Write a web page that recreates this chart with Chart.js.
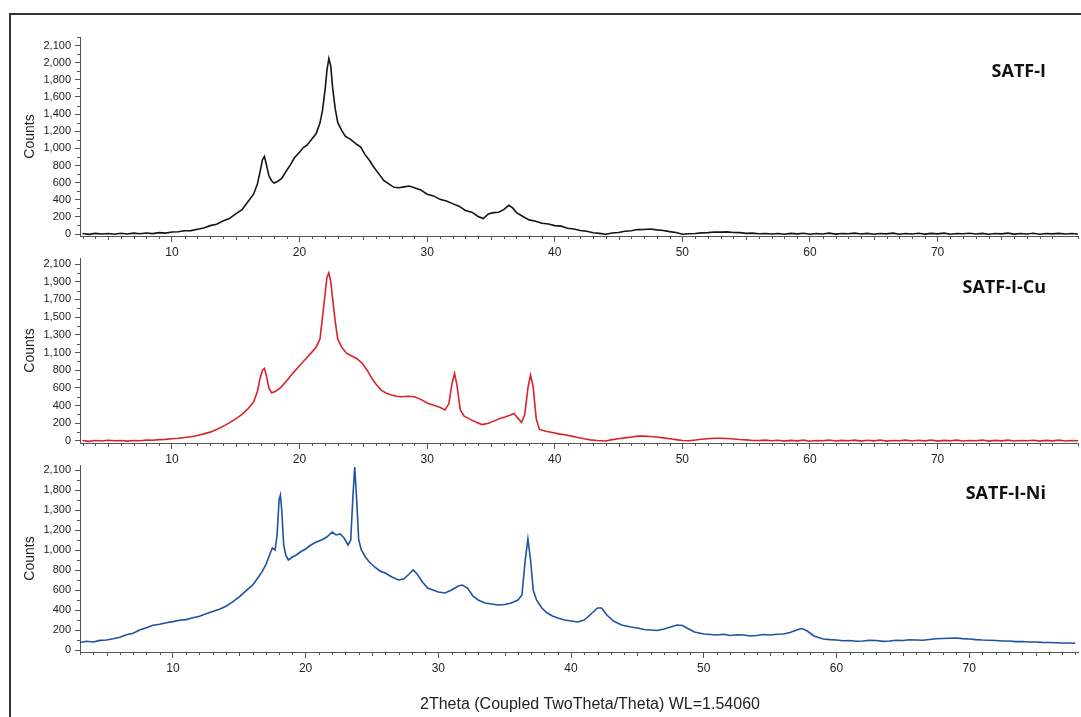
<!DOCTYPE html>
<html>
<head>
<meta charset="utf-8">
<script src="https://cdn.jsdelivr.net/npm/chart.js@4.4.1/dist/chart.umd.min.js"></script>
<style>
    body { margin: 0; background: #fff; }
    #fig { position: relative; width: 1081px; height: 717px; overflow: hidden; background: #fff; }
    #frame { position: absolute; left: 9px; top: 13px; right: -10px; bottom: -10px;
             border-left: 2px solid #333; border-top: 2px solid #333; }
    canvas { position: absolute; left: 0; top: 0; }
    .tag { position: absolute; right: 35px; font: 700 18px "Open Sans", sans-serif; color: #111; line-height: 20px; }
    #xtitle { position: absolute; left: 80px; width: 1020px; top: 695px; text-align: center;
              font: 16px "Liberation Sans", Arial, sans-serif; color: #222; }
</style>
</head>
<body>
<div id="fig">
    <div id="frame"></div>
    <canvas id="c1" width="1081" height="717"></canvas>
    <canvas id="c2" width="1081" height="717"></canvas>
    <canvas id="c3" width="1081" height="717"></canvas>
    <div class="tag" style="top:60px">SATF-I</div>
    <div class="tag" style="top:276px">SATF-I-Cu</div>
    <div class="tag" style="top:482px">SATF-I-Ni</div>
    <div id="xtitle">2Theta (Coupled TwoTheta/Theta) WL=1.54060</div>
</div>
<script>
    "use strict";

    // x axis tick values (2 theta)
    const thetaTicks = [10, 20, 30, 40, 50, 60, 70];

    // y tick labels as printed on each panel (evenly spaced, 200 units apart on the axis)
    const yLabels1 = ['0', '200', '400', '600', '800', '1,000', '1,200', '1,400', '1,600', '1,800', '2,000', '2,100'];
    const yLabels2 = ['0', '200', '400', '600', '800', '1,100', '1,300', '1,500', '1,700', '1,900', '2,100'];
    const yLabels3 = ['0', '200', '400', '600', '800', '1,000', '1,200', '1,300', '1,800', '2,100'];

    // [2theta, counts]
    const satfI = [[3,6],[3.5,-4],[4,8],[4.5,0],[5,7],[5.5,-3],[6,9],[6.5,1],[7,10],[7.5,3],[8,12],[8.5,5],[9,16],[9.5,11],
        [10,24],[10.5,27],[11,38],[11.5,40],[12,55],[12.5,70],[13,98],[13.5,115],[14,152],[14.5,180],[15,235],[15.5,285],
        [16,385],[16.4,465],[16.7,585],[16.9,720],[17.1,870],[17.25,905],[17.4,815],[17.6,680],[17.8,625],[18,595],
        [18.3,615],[18.6,650],[19,745],[19.3,810],[19.6,890],[20,955],[20.3,1010],[20.6,1040],[21,1115],[21.3,1170],
        [21.6,1295],[21.8,1440],[22,1680],[22.15,1910],[22.3,2050],[22.45,1960],[22.6,1700],[22.8,1460],[23,1300],
        [23.3,1210],[23.6,1140],[24,1105],[24.5,1045],[24.8,1015],[25.1,935],[25.5,855],[25.8,785],[26.2,705],[26.6,625],
        [27,585],[27.4,545],[27.8,540],[28.2,550],[28.6,560],[29,540],[29.5,515],[30,465],[30.5,445],[31,405],[31.5,385],
        [32,355],[32.5,325],[33,275],[33.5,255],[34,205],[34.4,180],[34.8,235],[35.2,250],[35.6,255],[36,285],[36.4,335],
        [36.7,305],[37,250],[37.5,205],[38,165],[38.5,150],[39,125],[39.5,118],[40,98],[40.5,92],[41,68],[41.5,58],
        [42,42],[42.5,32],[43,14],[43.5,8],[44,-2],[44.5,12],[45,18],[45.5,33],[46,38],[46.5,52],[47,53],[47.5,58],
        [48,48],[48.5,42],[49,28],[49.5,18],[50,-2],[50.5,4],[51,6],[51.5,14],[52,16],[52.5,24],[53,22],[53.5,25],
        [54,18],[54.5,16],[55,8],[55.5,10],[56,3],[56.5,7],[57,0],[57.5,6],[58,-3],[58.5,8],[59,2],[59.5,9],[60,-2],
        [60.5,6],[61,1],[61.5,10],[62,-1],[62.5,7],[63,3],[63.5,11],[64,0],[64.5,8],[65,-3],[65.5,6],[66,2],[66.5,10],
        [67,-2],[67.5,7],[68,1],[68.5,9],[69,-1],[69.5,8],[70,2],[70.5,11],[71,-2],[71.5,6],[72,3],[72.5,9],[73,0],
        [73.5,8],[74,-3],[74.5,7],[75,2],[75.5,10],[76,-1],[76.5,6],[77,1],[77.5,9],[78,-2],[78.5,7],[79,2],[79.5,8],
        [80,0],[80.5,6],[81,1]];

    const satfICu = [[3,5],[3.5,-4],[4,6],[4.5,0],[5,8],[5.5,2],[6,5],[6.5,-2],[7,6],[7.5,3],[8,10],[8.5,8],[9,15],
        [9.5,18],[10,25],[10.5,30],[11,40],[11.5,48],[12,62],[12.5,80],[13,100],[13.5,130],[14,165],[14.5,205],[15,250],
        [15.5,300],[16,370],[16.4,440],[16.7,560],[16.9,700],[17.1,800],[17.25,820],[17.4,740],[17.6,600],[17.8,545],
        [18.1,560],[18.5,600],[19,680],[19.5,770],[20,850],[20.5,930],[21,1010],[21.3,1060],[21.6,1150],[21.8,1400],
        [22,1650],[22.15,1850],[22.3,1900],[22.45,1800],[22.6,1600],[22.8,1350],[23,1150],[23.3,1060],[23.7,990],
        [24.1,960],[24.5,930],[24.9,880],[25.3,800],[25.7,700],[26,640],[26.4,575],[26.8,540],[27.2,520],[27.6,505],
        [28,500],[28.5,505],[29,500],[29.5,470],[30,430],[30.5,405],[31,380],[31.4,350],[31.7,420],[31.95,650],
        [32.15,765],[32.35,620],[32.6,350],[32.9,280],[33.3,250],[33.8,215],[34.3,185],[34.8,200],[35.3,230],[35.7,255],
        [36.1,270],[36.5,290],[36.8,310],[37.1,260],[37.4,210],[37.65,300],[37.9,600],[38.1,745],[38.3,620],[38.55,250],
        [38.8,130],[39.3,110],[39.8,95],[40.3,80],[40.8,70],[41.3,55],[41.8,40],[42.3,25],[42.8,12],[43.3,5],[44,0],
        [44.5,15],[45,25],[45.5,35],[46,45],[46.5,55],[47,55],[47.5,50],[48,45],[48.5,35],[49,25],[49.5,15],[50,5],
        [50.5,2],[51,10],[51.5,20],[52,25],[52.5,30],[53,30],[53.5,28],[54,22],[54.5,16],[55,12],[55.5,6],[56,5],
        [56.5,9],[57,2],[57.5,8],[58,-2],[58.5,7],[59,1],[59.5,9],[60,-3],[60.5,6],[61,2],[61.5,10],[62,-1],[62.5,7],
        [63,2],[63.5,9],[64,-2],[64.5,8],[65,1],[65.5,10],[66,-2],[66.5,6],[67,2],[67.5,9],[68,-1],[68.5,8],[69,1],
        [69.5,10],[70,-2],[70.5,7],[71,2],[71.5,9],[72,-1],[72.5,6],[73,2],[73.5,10],[74,-2],[74.5,7],[75,1],[75.5,9],
        [76,-1],[76.5,6],[77,2],[77.5,8],[78,-2],[78.5,7],[79,1],[79.5,9],[80,0],[80.5,6],[81,2]];

    const satfINi = [[3,75],[3.5,88],[4,80],[4.5,96],[5,100],[5.5,112],[6,128],[6.5,152],[7,168],[7.5,200],[8,222],
        [8.5,248],[9,258],[9.5,272],[10,284],[10.5,298],[11,304],[11.5,322],[12,338],[12.5,362],[13,384],[13.5,408],
        [14,438],[14.5,482],[15,532],[15.5,592],[16,648],[16.3,702],[16.7,778],[17,852],[17.3,958],[17.5,1020],[17.7,1000],
        [17.85,1150],[18,1500],[18.1,1550],[18.2,1400],[18.35,1050],[18.5,950],[18.7,900],[19,930],[19.3,950],[19.6,980],
        [20,1010],[20.4,1050],[20.8,1080],[21.2,1100],[21.6,1130],[22,1180],[22.3,1150],[22.6,1160],[22.9,1120],
        [23.2,1050],[23.4,1100],[23.55,1500],[23.7,1830],[23.85,1500],[24,1100],[24.2,1000],[24.5,930],[24.8,880],
        [25.2,830],[25.6,790],[26,770],[26.5,730],[27,700],[27.4,710],[27.8,760],[28.1,800],[28.4,760],[28.8,680],
        [29.2,620],[29.6,600],[30,580],[30.5,570],[31,600],[31.5,640],[31.8,650],[32.2,620],[32.6,540],[33,500],
        [33.5,470],[34,460],[34.5,450],[35,455],[35.5,470],[36,500],[36.3,550],[36.55,900],[36.75,1110],[36.95,900],
        [37.15,600],[37.4,500],[37.8,420],[38.2,370],[38.6,340],[39,320],[39.5,300],[40,290],[40.5,280],[41,300],
        [41.5,360],[42,420],[42.3,420],[42.7,350],[43.2,290],[43.8,250],[44.5,230],[45,220],[45.5,205],[46,200],
        [46.5,195],[47,210],[47.5,230],[48,250],[48.4,245],[48.8,215],[49.3,180],[50,160],[50.5,155],[51,150],[51.5,158],
        [52,145],[52.5,152],[53,150],[53.5,140],[54,145],[54.5,155],[55,150],[55.5,158],[56,160],[56.5,175],[57,200],
        [57.4,215],[57.8,190],[58.3,140],[59,110],[59.5,104],[60,100],[60.5,92],[61,95],[61.5,88],[62,90],[62.5,98],
        [63,95],[63.5,86],[64,90],[64.5,98],[65,95],[65.5,102],[66,100],[66.5,98],[67,105],[67.5,112],[68,115],
        [68.5,118],[69,120],[69.5,114],[70,110],[70.5,104],[71,100],[71.5,98],[72,95],[72.5,90],[73,90],[73.5,84],
        [74,85],[74.5,80],[75,80],[75.5,76],[76,75],[76.5,72],[77,70],[77.5,70],[78,68]];

    // short minor tick marks on both axes
    const minorTicks = {
        id: 'minorTicks',
        afterDraw(chart) {
            const ctx = chart.ctx;
            const x = chart.scales.x, y = chart.scales.y;
            ctx.save();
            ctx.strokeStyle = '#555';
            ctx.lineWidth = 1;
            ctx.beginPath();
            for (let v = Math.ceil(x.min); v <= x.max; v++) {
                if (v % 10 === 0) continue;
                const px = Math.round(x.getPixelForValue(v)) + 0.5;
                ctx.moveTo(px, x.top);
                ctx.lineTo(px, x.top + (v % 5 === 0 ? 4 : 3));
            }
            y.ticks.forEach(t => {
                const v = t.value + 100;
                if (v > y.max) return;
                const py = Math.round(y.getPixelForValue(v)) + 0.5;
                ctx.moveTo(y.right, py);
                ctx.lineTo(y.right - 3, py);
            });
            ctx.stroke();
            ctx.restore();
        }
    };

    function makeChart(id, data, color, labels, xMin, xMax, yMin, yMax, pad) {
        const ctx = document.getElementById(id).getContext('2d');
        return new Chart(ctx, {
            type: 'line',
            data: {
                datasets: [{
                    data: data,
                    borderColor: color,
                    borderWidth: 1.6,
                    pointRadius: 0,
                    tension: 0,
                    fill: false
                }]
            },
            options: {
                responsive: false,
                animation: false,
                layout: { padding: pad },
                plugins: { legend: { display: false }, tooltip: { enabled: false } },
                scales: {
                    x: {
                        type: 'linear',
                        min: xMin,
                        max: xMax,
                        afterBuildTicks: s => { s.ticks = thetaTicks.map(v => ({ value: v })); },
                        afterFit: s => { s.height = 24; },
                        grid: { drawOnChartArea: false, tickLength: 6, color: '#555' },
                        border: { color: '#555', width: 1 },
                        ticks: {
                            autoSkip: false, maxRotation: 0, padding: 3, color: '#222',
                            font: { family: '"Liberation Sans", Arial, sans-serif', size: 12 }
                        }
                    },
                    y: {
                        min: yMin,
                        max: yMax,
                        afterBuildTicks: s => { s.ticks = labels.map((l, i) => ({ value: i * 200 })); },
                        afterFit: s => { s.width = 66; },
                        grid: { drawOnChartArea: false, tickLength: 5, color: '#555' },
                        border: { color: '#555', width: 1 },
                        title: {
                            display: true, text: 'Counts', color: '#222', padding: { top: 8, bottom: 0 },
                            font: { family: '"Liberation Sans", Arial, sans-serif', size: 14 }
                        },
                        ticks: {
                            autoSkip: false, padding: 4, color: '#222',
                            font: { family: '"Liberation Sans", Arial, sans-serif', size: 11 },
                            callback: (value, index) => labels[index]
                        }
                    }
                }
            },
            plugins: [minorTicks]
        });
    }

    makeChart('c1', satfI, '#151515', yLabels1, 2.8, 81, -23, 2300,
        { left: 14, right: 3, top: 37, bottom: 457 });
    makeChart('c2', satfICu, '#d8232a', yLabels2, 2.8, 81, -23, 2068,
        { left: 14, right: 3, top: 258, bottom: 250 });
    makeChart('c3', satfINi, '#1f52a3', yLabels3, 3, 78.2, -20, 1850,
        { left: 14, right: 3, top: 465, bottom: 41 });
</script>
</body>
</html>
